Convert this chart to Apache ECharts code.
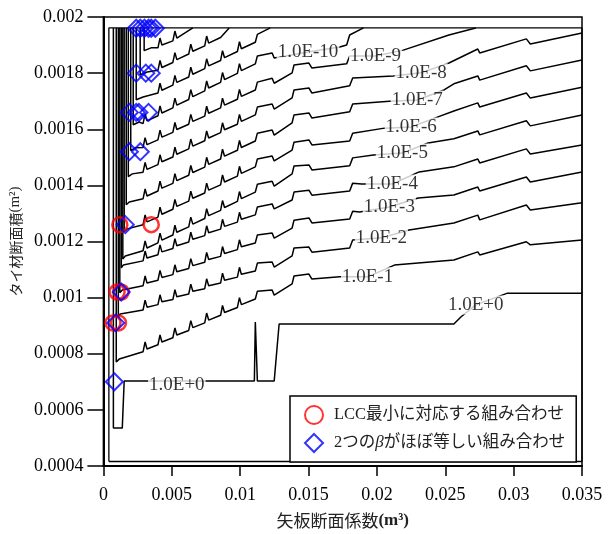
<!DOCTYPE html>
<html><head><meta charset="utf-8">
<script src="https://cdn.jsdelivr.net/npm/echarts@6/dist/echarts.min.js"></script>
<style>html,body{margin:0;padding:0;background:#fff}#c{width:609px;height:534px}</style>
</head><body><div id="c"></div>
<script>
// axes
const xMin = 0, xMax = 0.035, xStep = 0.005;
const yMin = 0.0004, yMax = 0.002, yStep = 0.0002;

// inner boundary of the computed grid
const frameX = [0.0004, 0.035, 0.035, 0.0004, 0.0004];
const frameY = [0.000416, 0.000416, 0.001961, 0.001961, 0.000416];

// sheet-pile modulus columns where the contours show their steps
const sawX = [0.0029,0.00305,0.00319, 0.00399,0.00414,0.00428, 0.00508,0.00523,0.00537, 0.00624,0.00639,0.00654,
              0.00741,0.00755,0.0077, 0.00857,0.00871,0.00886, 0.0098,0.00995,0.01009,
              0.01111,0.01126, 0.01234,0.01249, 0.0138,0.01394, 0.01503,0.01525, 0.01801,0.01823];

// contour 1.0E+0
const e0Path = [[0.00073,0.001961],[0.00073,0.000535],[0.00138,0.000535],[0.00152,0.000703],[0.00537,0.000703],[0.01104,0.000703],[0.01111,0.000913],[0.01126,0.000703],[0.01249,0.000703],[0.01285,0.000906],[0.02563,0.000906],[0.02614,0.000931],[0.02723,0.000974],[0.02955,0.001016],[0.035,0.001016]];

// contour 1.0E-1
const e1Head = [[0.00094,0.001961],[0.00094,0.000771],[0.00116,0.000781]];
const e1Saw = [0.000807,0.000842,0.000817, 0.000832,0.000867,0.000842, 0.000857,0.000892,0.000867, 0.000883,0.000918,0.000893,
               0.00091,0.000945,0.00092, 0.000937,0.000972,0.000947, 0.000965,0.001,0.000975,
               0.000995,0.001023, 0.001027,0.001009, 0.001049,0.001077, 0.001084,0.001066];
const e1Tail = [[0.01728,0.001074],[0.01932,0.001074],[0.02128,0.001116],[0.02563,0.001134],[0.02738,0.001163],[0.02752,0.001152],[0.03093,0.001199],[0.03122,0.001188],[0.035,0.001205]];

// contour 1.0E-2
const e2Head = [[0.00109,0.001961],[0.00109,0.000932],[0.00123,0.000942]];
const e2Saw = [0.000956,0.000991,0.000966, 0.000975,0.00101,0.000985, 0.000993,0.001028,0.001003, 0.001013,0.001048,0.001023,
               0.001032,0.001067,0.001042, 0.001052,0.001087,0.001062, 0.001073,0.001108,0.001083,
               0.001095,0.001123, 0.001127,0.001109, 0.001149,0.001177, 0.00118,0.001162, 0.001177,0.001205];
const e2Tail = [[0.02033,0.001213],[0.02236,0.001241],[0.02563,0.001266],[0.02738,0.001294],[0.02752,0.001277],[0.03093,0.00133],[0.03122,0.001312],[0.035,0.001338]];

// contour 1.0E-3
const e3Head = [[0.0012,0.001961],[0.0012,0.001017],[0.00138,0.001027]];
const e3Saw = [0.001042,0.001077,0.001052, 0.001062,0.001097,0.001072, 0.001082,0.001117,0.001092, 0.001104,0.001139,0.001114,
               0.001126,0.001161,0.001136, 0.001147,0.001182,0.001157, 0.001171,0.001206,0.001181,
               0.001195,0.001223, 0.00123,0.001212, 0.001248,0.001276, 0.001284,0.001266, 0.00128,0.001308];
const e3Tail = [[0.01873,0.001305],[0.02091,0.001323],[0.02302,0.001355],[0.02563,0.001366],[0.02738,0.001394],[0.02752,0.00138],[0.03093,0.00143],[0.03122,0.001412],[0.035,0.001448]];

// contour 1.0E-4
const e4Head = [[0.00131,0.001961],[0.00131,0.001106],[0.00145,0.001116]];
const e4Saw = [0.001131,0.001166,0.001141, 0.001153,0.001188,0.001163, 0.001175,0.00121,0.001185, 0.001198,0.001233,0.001208,
               0.001221,0.001256,0.001231, 0.001244,0.001279,0.001254, 0.001269,0.001304,0.001279,
               0.001295,0.001323, 0.001334,0.001316, 0.001348,0.001376, 0.001383,0.001365, 0.00138,0.001408];
const e4Tail = [[0.01888,0.001405],[0.02113,0.001405],[0.02309,0.001448],[0.02563,0.001466],[0.02738,0.001494],[0.02752,0.00148],[0.03093,0.00153],[0.03122,0.001512],[0.035,0.001544]];

// contour 1.0E-5
const e5Head = [[0.00142,0.001961],[0.00142,0.001138],[0.0016,0.001148]];
const e5Saw = [0.001167,0.001202,0.001177, 0.001195,0.00123,0.001205, 0.001223,0.001258,0.001233, 0.001252,0.001287,0.001262,
               0.001282,0.001317,0.001292, 0.001311,0.001346,0.001321, 0.001343,0.001378,0.001353,
               0.001376,0.001404, 0.001415,0.001397, 0.001441,0.001469, 0.001473,0.001455, 0.00147,0.001498];
const e5Tail = [[0.01975,0.001508],[0.02186,0.001515],[0.02374,0.001551],[0.02563,0.001566],[0.02738,0.001594],[0.02752,0.00158],[0.03093,0.00163],[0.03122,0.001612],[0.035,0.001651]];

// contour 1.0E-6
const e6Head = [[0.00152,0.001961],[0.00152,0.001235],[0.00174,0.001245]];
const e6Saw = [0.00126,0.001295,0.00127, 0.001287,0.001322,0.001297, 0.001315,0.00135,0.001325, 0.001344,0.001379,0.001354,
               0.001373,0.001408,0.001383, 0.001402,0.001437,0.001412, 0.001433,0.001468,0.001443,
               0.001466,0.001494, 0.001505,0.001487, 0.001526,0.001554, 0.001562,0.001544, 0.001558,0.001586];
const e6Tail = [[0.02055,0.001604],[0.02251,0.001608],[0.02447,0.001644],[0.02563,0.001665],[0.02738,0.001694],[0.02752,0.001679],[0.03093,0.001729],[0.03122,0.001711],[0.035,0.00175]];

// contour 1.0E-7
const e7Head = [[0.00167,0.001961],[0.00167,0.001331],[0.00189,0.001341]];
const e7Saw = [0.001352,0.001387,0.001362, 0.00138,0.001415,0.00139, 0.001407,0.001442,0.001417, 0.001436,0.001471,0.001446,
               0.001465,0.0015,0.001475, 0.001494,0.001529,0.001504, 0.001525,0.00156,0.001535,
               0.001558,0.001586, 0.001597,0.001579, 0.001623,0.001651, 0.001658,0.00164, 0.001662,0.00169];
const e7Tail = [[0.02091,0.0017],[0.02295,0.001704],[0.02491,0.00174],[0.02563,0.001762],[0.02738,0.00179],[0.02752,0.001775],[0.03093,0.001826],[0.03122,0.001808],[0.035,0.001847]];

// contour 1.0E-8
const e8Head = [[0.00182,0.001961],[0.00182,0.001431],[0.00211,0.001441]];
const e8Saw = [0.001447,0.001482,0.001457, 0.001474,0.001509,0.001484, 0.001501,0.001536,0.001511, 0.00153,0.001565,0.00154,
               0.001559,0.001594,0.001569, 0.001588,0.001623,0.001598, 0.001618,0.001653,0.001628,
               0.001651,0.001679, 0.00169,0.001672, 0.001712,0.00174, 0.001747,0.001729, 0.001755,0.001783];
const e8Tail = [[0.0212,0.00179],[0.02324,0.001801],[0.02527,0.001836],[0.02738,0.001886],[0.02752,0.001872],[0.03093,0.001922],[0.03122,0.001904],[0.035,0.001943]];

// contour 1.0E-9
const e9Head = [[0.002,0.001961],[0.002,0.001524],[0.00232,0.001534]];
const e9Saw = [0.001535,0.00157,0.001545, 0.001562,0.001597,0.001572, 0.001589,0.001624,0.001599, 0.001618,0.001653,0.001628,
               0.001647,0.001682,0.001657, 0.001676,0.001711,0.001686, 0.001707,0.001742,0.001717,
               0.00174,0.001768, 0.001782,0.001764, 0.001801,0.001829, 0.001836,0.001818];
const e9Tail = [[0.01779,0.001833],[0.01801,0.001861],[0.0199,0.001861],[0.02193,0.001882],[0.02527,0.001936],[0.02723,0.001961]];

// contour 1.0E-10
const e10Head = [[0.00218,0.001961],[0.00218,0.001616],[0.00261,0.001626]];
const e10Saw = [0.00162,0.001655,0.00163, 0.001648,0.001683,0.001658, 0.001676,0.001711,0.001686, 0.001706,0.001741,0.001716,
                0.001737,0.001772,0.001747, 0.001767,0.001802,0.001777, 0.001799,0.001834,0.001809,
                0.001833,0.001861, 0.001872,0.001854];
const e10Tail = [[0.01496,0.001875],[0.01728,0.001893],[0.01779,0.0019],[0.01801,0.001936],[0.01902,0.001961]];

// unlabelled contours leaving through the top
const e11Head = [[0.0024,0.001961],[0.0024,0.001705],[0.0029,0.001715]];
const e11Saw = [null,null,null, 0.001729,0.001764,0.001739, 0.001757,0.001792,0.001767, 0.001786,0.001821,0.001796,
                0.001816,0.001851,0.001826, 0.001845,0.00188,0.001855, 0.001877,0.001912,0.001887, 0.00191,0.001938];
const e11Tail = [[0.0122,0.001961]];
const e12Head = [[0.00269,0.001961],[0.00269,0.001794],[0.0032,0.001804]];
const e12Saw = [null,null,null, 0.00181,0.001845,0.00182, 0.001838,0.001873,0.001848, 0.001868,0.001903,0.001878,
                0.001897,0.001932,0.001907, 0.001927];
const e12Tail = [[0.0092,0.001961]];
const e13Head = [[0.00298,0.001961],[0.00298,0.00188],[0.00349,0.00189]];
const e13Saw = [null,null,null, 0.00189,0.001925,0.0019, 0.001915,0.00195,0.001925];
const e13Tail = [[0.00654,0.001961]];

// contour labels
const labelText = ['1.0E-10','1.0E-9','1.0E-8','1.0E-7','1.0E-6','1.0E-5','1.0E-4','1.0E-3','1.0E-2','1.0E-1','1.0E+0','1.0E+0'];
const labelX = [0.01496,0.0199,0.02324,0.02295,0.02251,0.02186,0.02113,0.02091,0.02033,0.01932,0.02723,0.00537];
const labelY = [0.001875,0.001861,0.001801,0.001704,0.001608,0.001515,0.001405,0.001323,0.001213,0.001074,0.000974,0.000689];

// markers
const lccX = [0.0012,0.0035,0.001,0.0013,0.0007,0.0011];
const lccY = [0.00126,0.00126,0.00102,0.00102,0.00091,0.00091];
const betaX = [0.0024,0.0027,0.003,0.0033,0.0035,0.0038, 0.0024,0.0031,0.0035, 0.0019,0.0024,0.0026,0.0033, 0.0019,0.0027, 0.0016, 0.0013, 0.0009, 0.0008];
const betaY = [0.00196,0.00196,0.00196,0.00196,0.00196,0.00196, 0.0018,0.0018,0.0018, 0.00166,0.00166,0.00166,0.00166, 0.00152,0.00152, 0.00126, 0.00102, 0.00091, 0.0007];

const nameLCC = 'LCC最小に対応する組み合わせ';
const nameBeta = '2つのβがほぼ等しい組み合わせ';

const serif = "'Liberation Serif','Times New Roman',serif";
const mixed = "'Liberation Serif','Noto Sans CJK JP',serif";
const cjk = "'Noto Sans CJK JP',sans-serif";

function contour(head, saw, tail) {
  const pts = head.slice();
  saw.forEach((y, i) => { if (y !== null) pts.push([sawX[i], y]); });
  return pts.concat(tail);
}
const contours = [
  e0Path,
  contour(e1Head, e1Saw, e1Tail),
  contour(e2Head, e2Saw, e2Tail),
  contour(e3Head, e3Saw, e3Tail),
  contour(e4Head, e4Saw, e4Tail),
  contour(e5Head, e5Saw, e5Tail),
  contour(e6Head, e6Saw, e6Tail),
  contour(e7Head, e7Saw, e7Tail),
  contour(e8Head, e8Saw, e8Tail),
  contour(e9Head, e9Saw, e9Tail),
  contour(e10Head, e10Saw, e10Tail),
  contour(e11Head, e11Saw, e11Tail),
  contour(e12Head, e12Saw, e12Tail),
  contour(e13Head, e13Saw, e13Tail)
];

const series = [];
series.push({
  type: 'line', data: frameX.map((x, i) => [x, frameY[i]]), symbol: 'none',
  lineStyle: { color: '#000', width: 1.3 }, silent: true, animation: false, z: 2
});
contours.forEach(d => series.push({
  type: 'line', data: d, symbol: 'none',
  lineStyle: { color: '#000', width: 1.5 }, silent: true, animation: false, z: 2
}));
series.push({
  type: 'scatter', data: labelX.map((x, i) => [x, labelY[i], labelText[i]]),
  symbolSize: 1, itemStyle: { color: 'rgba(255,255,255,0)' }, silent: true, animation: false, z: 3,
  label: { show: true, position: 'inside', formatter: p => p.value[2], fontFamily: serif, fontSize: 19,
           color: '#000', backgroundColor: '#fff', padding: [0, 1] }
});
series.push({
  name: nameLCC, type: 'scatter', data: lccX.map((x, i) => [x, lccY[i]]),
  symbol: 'circle', symbolSize: 15, animation: false, z: 4,
  itemStyle: { color: 'rgba(255,255,255,0)', borderColor: '#ff0000', borderWidth: 2.5 }
});
series.push({
  name: nameBeta, type: 'scatter', data: betaX.map((x, i) => [x, betaY[i]]),
  symbol: 'diamond', symbolSize: 17, animation: false, z: 5,
  itemStyle: { color: 'rgba(255,255,255,0)', borderColor: '#0000ff', borderWidth: 2 }
});

const chart = echarts.init(document.getElementById('c'), null, { renderer: 'canvas' });
chart.setOption({
  backgroundColor: '#fff',
  animation: false,
  grid: { left: 100, right: 27, top: 17, bottom: 68, show: true, borderColor: '#000', borderWidth: 1.5 },
  xAxis: {
    type: 'value', min: xMin, max: xMax, interval: xStep,
    axisLine: { show: true, onZero: false, lineStyle: { color: '#000', width: 2 } },
    axisTick: { show: true, length: 10, lineStyle: { color: '#000', width: 1.5 } },
    axisLabel: { margin: 20, fontFamily: serif, fontSize: 18, color: '#000' },
    splitLine: { show: false },
    name: '矢板断面係数{m|(m³)}', nameLocation: 'middle', nameGap: 46,
    nameTextStyle: { fontFamily: cjk, fontSize: 17, color: '#222',
      rich: { m: { fontFamily: serif, fontWeight: 'bold', fontSize: 17, color: '#222' } } }
  },
  yAxis: {
    type: 'value', min: yMin, max: yMax, interval: yStep,
    axisLine: { show: true, onZero: false, lineStyle: { color: '#000', width: 2 } },
    axisTick: { show: true, length: 16, lineStyle: { color: '#000', width: 1.5 } },
    axisLabel: { margin: 20, fontFamily: serif, fontSize: 18, color: '#000' },
    splitLine: { show: false },
    name: 'タイ材断面積{m|(m²)}', nameLocation: 'middle', nameGap: 76,
    nameTextStyle: { fontFamily: cjk, fontSize: 14, color: '#222',
      rich: { m: { fontFamily: serif, fontSize: 15, color: '#222' } } }
  },
  legend: {
    orient: 'vertical', left: 290, top: 396,
    backgroundColor: '#fff', borderColor: '#000', borderWidth: 1.5, borderRadius: 0,
    padding: [9, 11, 9, 14], itemGap: 8, itemWidth: 18, itemHeight: 18,
    data: [{ name: nameLCC, icon: 'circle' }, { name: nameBeta, icon: 'diamond' }],
    formatter: n => n.replace('β', '{b|β}'),
    textStyle: { fontFamily: mixed, fontSize: 16.5, color: '#222', padding: [0, 0, 0, 6],
      rich: { b: { fontFamily: serif, fontStyle: 'italic', fontSize: 17, color: '#222' } } }
  },
  series: series
});
</script>
</body></html>
